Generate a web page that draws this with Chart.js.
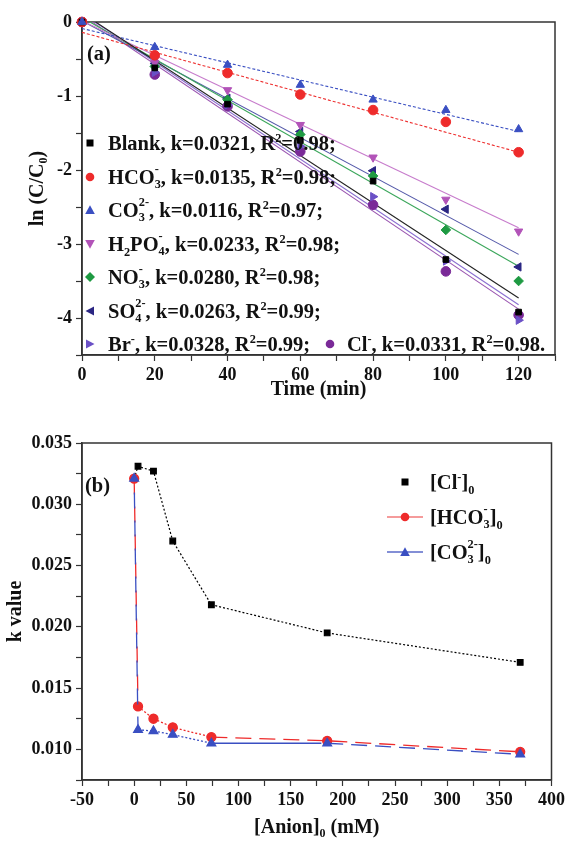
<!DOCTYPE html>
<html>
<head>
<meta charset="utf-8">
<script src="https://cdn.jsdelivr.net/npm/chart.js@4.4.1/dist/chart.umd.min.js"></script>
<style>
body{margin:0;background:#fff;}
#wrap{position:relative;width:569px;height:841px;font-family:"Liberation Serif","Times New Roman",serif;font-weight:bold;color:#111;}
canvas{position:absolute;left:0;}
.txt{position:absolute;white-space:nowrap;font-size:20.5px;line-height:24px;}
.row{position:absolute;height:34px;display:flex;align-items:center;white-space:nowrap;font-size:20.5px;}
.row svg{flex:none;}
.ss{display:inline-block;vertical-align:-0.32em;font-size:0.6em;line-height:1.2;}
.ss span{display:block;}
sup,sub{font-size:0.6em;line-height:0;}
</style>
</head>
<body>
<div id="wrap">
<canvas id="chartA" width="569" height="420" style="top:0"></canvas>
<canvas id="chartB" width="569" height="421" style="top:420px"></canvas>
<div class="txt" style="left:87px;top:41px">(a)</div>
<div class="txt" style="left:85px;top:473px">(b)</div>
<div id="legA"></div>
<div id="legB"></div>
</div>
<script>
// (a) ln(C/C0) vs time
var times = [0, 20, 40, 60, 80, 100, 120];
var lnBlank = [0, -0.62, -1.11, -1.60, -2.15, -3.21, -3.92];
var lnHCO3 = [0, -0.45, -0.69, -0.98, -1.19, -1.35, -1.76];
var lnCO3 = [0, -0.34, -0.58, -0.85, -1.05, -1.19, -1.45];
var lnH2PO4 = [0, -0.55, -0.92, -1.39, -1.83, -2.40, -2.83];
var lnNO3 = [0, -0.60, -1.05, -1.52, -2.08, -2.81, -3.50];
var lnSO4 = [0, -0.56, -1.03, -1.48, -2.01, -2.53, -3.31];
var lnBr = [0, -0.68, -1.12, -1.68, -2.36, -3.23, -4.03];
var lnCl = [0, -0.71, -1.14, -1.75, -2.47, -3.37, -3.96];

// fitted lines, value at t=0 and t=120
var fitTimes = [0, 120];
var fitBlank = [0.12, -3.73];
var fitHCO3 = [-0.14, -1.76];
var fitCO3 = [-0.088, -1.48];
var fitH2PO4 = [0.016, -2.78];
var fitNO3 = [0.06, -3.30];
var fitSO4 = [0.016, -3.14];
var fitBr = [0.116, -3.82];
var fitCl = [0.092, -3.88];

var kVals = ["0.0321", "0.0135", "0.0116", "0.0233", "0.0280", "0.0263", "0.0328", "0.0331"];
var r2Vals = ["0.98", "0.98", "0.97", "0.98", "0.98", "0.99", "0.99", "0.98"];

// (b) k value vs anion concentration
var anionConc = [0, 3.7, 18.5, 37, 74, 185, 370];
var kCl = [0.0321, 0.0331, 0.0327, 0.0270, 0.0218, 0.0195, 0.0171];
var kHCO3 = [0.0321, 0.0135, 0.0125, 0.0118, 0.0110, 0.0107, 0.0098];
var kCO3 = [0.0321, 0.0116, 0.0115, 0.0112, 0.0105, 0.0105, 0.0096];

var serif = '"Liberation Serif", "Times New Roman", serif';
var ink = "#111";
var axisCol = "#333";

function ss(top, bottom) {
	return '<span class="ss"><span>' + top + '</span><span>' + bottom + '</span></span>';
}
var ionHtml = ["Blank", "HCO" + ss("-", "3"), "CO" + ss("2-", "3"), "H<sub>2</sub>PO" + ss("-", "4"),
	"NO" + ss("-", "3"), "SO" + ss("2-", "4"), "Br<sup>-</sup>", "Cl<sup>-</sup>"];

var seriesA = [
	{pts: lnBlank, fit: fitBlank, color: "#000000", line: "#222222", shape: "rect", rot: 0, dash: []},
	{pts: lnHCO3, fit: fitHCO3, color: "#ee2b2b", line: "#ee3030", shape: "circle", rot: 0, dash: [3, 2]},
	{pts: lnCO3, fit: fitCO3, color: "#3a4fc2", line: "#3a4fc2", shape: "triangle", rot: 0, dash: [3, 2]},
	{pts: lnH2PO4, fit: fitH2PO4, color: "#b253b8", line: "#c77ccc", shape: "triangle", rot: 180, dash: []},
	{pts: lnNO3, fit: fitNO3, color: "#1e9a42", line: "#3aa65a", shape: "rectRot", rot: 0, dash: []},
	{pts: lnSO4, fit: fitSO4, color: "#2b2683", line: "#5257a8", shape: "triangle", rot: -90, dash: []},
	{pts: lnBr, fit: fitBr, color: "#6a50c6", line: "#8a6fd0", shape: "triangle", rot: 90, dash: []},
	{pts: lnCl, fit: fitCl, color: "#7a2a98", line: "#9a55b0", shape: "circle", rot: 0, dash: []}
];
var svgShape = ["square", "circle", "up", "down", "diamond", "left", "right", "circle"];

var boxPlugin = {
	id: "box",
	beforeDatasetsDraw: function(chart) {
		var a = chart.chartArea, ctx = chart.ctx;
		ctx.save();
		ctx.strokeStyle = axisCol;
		ctx.lineWidth = 1.5;
		ctx.strokeRect(a.left, a.top, a.right - a.left, a.bottom - a.top);
		ctx.restore();
	}
};

function axisBase(title, titlePad) {
	return {
		type: "linear",
		border: {color: axisCol, width: 1.5},
		grid: {drawOnChartArea: false, drawTicks: true, tickLength: 6, tickColor: axisCol, tickWidth: 1.2},
		ticks: {autoSkip: false, maxRotation: 0, padding: 4, color: ink, font: {family: serif, size: 18, weight: "bold"}},
		title: {display: true, text: title, color: ink, font: {family: serif, size: 20, weight: "bold"}, padding: titlePad}
	};
}

var dsA = [];
for (var i = 0; i < seriesA.length; ++i) {
	var s = seriesA[i];
	dsA.push({
		data: times.map(function(t, j) { return {x: t, y: s.pts[j]}; }),
		showLine: false,
		pointStyle: s.shape,
		pointRotation: s.rot,
		pointRadius: s.shape == "rect" ? 4 : 4.8,
		backgroundColor: s.color,
		borderColor: s.color,
		borderWidth: 1,
		order: s.pts === lnCO3 ? -1 : 0,
		clip: 10
	});
}
for (var i = 0; i < seriesA.length; ++i) {
	var s = seriesA[i];
	dsA.push({
		data: fitTimes.map(function(t, j) { return {x: t, y: s.fit[j]}; }),
		showLine: true,
		pointRadius: 0,
		borderColor: s.line,
		borderWidth: 1.1,
		borderDash: s.dash
	});
}

var xA = axisBase("Time (min)", {top: 0, bottom: 18});
xA.min = 0; xA.max = 130;
xA.ticks.stepSize = 10;
xA.ticks.callback = function(v) { return (v % 20 === 0 && v <= 120) ? String(v) : ""; };
xA.afterFit = function(sc) { sc.height = 65; };
var yA = axisBase("ln (C/C\u2080)", {top: 26, bottom: 0});
yA.min = -4.5; yA.max = 0;
yA.ticks.stepSize = 0.5;
yA.ticks.callback = function(v) { return Number.isInteger(v) ? String(v) : ""; };
yA.afterFit = function(sc) { sc.width = 82; };

new Chart(document.getElementById("chartA"), {
	type: "scatter",
	data: {datasets: dsA},
	options: {
		responsive: false,
		animation: false,
		layout: {padding: {top: 22, right: 14, left: 0, bottom: 0}},
		plugins: {legend: {display: false}, tooltip: {enabled: false}},
		scales: {x: xA, y: yA}
	},
	plugins: [boxPlugin]
});

// panel b
var co3Dash = [[16, 12], [2, 2], [2, 2], [2, 2], [110, 34], [16, 8]];
var hco3Dash = [[16, 12], [2, 2], [2, 2], [2, 2], [16, 8], [16, 8]];

function pairs(xs, ys) {
	return xs.map(function(x, j) { return {x: x, y: ys[j]}; });
}

var xB = axisBase("[Anion]\u2080 (mM)", {top: 0, bottom: 1});
xB.min = -50; xB.max = 400;
xB.ticks.stepSize = 25;
xB.ticks.callback = function(v) { return v % 50 === 0 ? String(v) : ""; };
xB.afterFit = function(sc) { sc.height = 61; };
var yB = axisBase("k value", {top: 4, bottom: 0});
yB.min = 0.0075; yB.max = 0.035;
yB.ticks.stepSize = 0.0025;
yB.ticks.callback = function(v) {
	var r = v * 200;
	return Math.abs(r - Math.round(r)) < 1e-6 ? v.toFixed(3) : "";
};
yB.afterFit = function(sc) { sc.width = 82; };

new Chart(document.getElementById("chartB"), {
	type: "scatter",
	data: {datasets: [
		{
			label: "CO3",
			data: pairs(anionConc, kCO3),
			showLine: true,
			pointStyle: "triangle",
			pointRadius: 5,
			backgroundColor: "#3a4fc2",
			borderColor: "#3a4fc2",
			borderWidth: 1.3,
			segment: {
				borderDash: function(c) { return co3Dash[c.p0DataIndex]; },
				borderDashOffset: function(c) { return c.p0DataIndex === 0 ? 14 : 0; }
			},
			clip: 10
		},
		{
			label: "HCO3",
			data: pairs(anionConc, kHCO3),
			showLine: true,
			pointStyle: "circle",
			pointRadius: 4.5,
			backgroundColor: "#ee2b2b",
			borderColor: "#ee2b2b",
			borderWidth: 1.3,
			segment: {borderDash: function(c) { return hco3Dash[c.p0DataIndex]; }},
			clip: 10
		},
		{
			label: "Cl",
			data: pairs(anionConc, kCl),
			showLine: true,
			pointStyle: "rect",
			pointRadius: function(c) { return c.dataIndex === 0 ? 0 : 4; },
			backgroundColor: "#000",
			borderColor: "#000",
			borderWidth: 1.2,
			borderDash: [2, 2],
			clip: 10
		}
	]},
	options: {
		responsive: false,
		animation: false,
		layout: {padding: {top: 23, right: 15, left: 0, bottom: 0}},
		plugins: {legend: {display: false}, tooltip: {enabled: false}},
		scales: {x: xB, y: yB}
	},
	plugins: [boxPlugin]
});

// legends
function marker(shape, color) {
	var body = "";
	if (shape == "square") body = '<rect x="3.5" y="3.5" width="7" height="7"/>';
	if (shape == "circle") body = '<circle cx="7" cy="7" r="4.3"/>';
	if (shape == "up") body = '<polygon points="7,2.2 11.8,11 2.2,11"/>';
	if (shape == "down") body = '<polygon points="2.2,3 11.8,3 7,11.8"/>';
	if (shape == "left") body = '<polygon points="2.5,7 11,2.5 11,11.5"/>';
	if (shape == "right") body = '<polygon points="3,2.5 11.5,7 3,11.5"/>';
	if (shape == "diamond") body = '<polygon points="7,2 12,7 7,12 2,7"/>';
	return '<g fill="' + color + '">' + body + '</g>';
}

var legA = "";
for (var i = 0; i < 7; ++i) {
	var rowTop = 143 + i * 33.5 - 17;
	legA += '<div class="row" style="left:83px;top:' + rowTop + 'px"><svg width="14" height="14">' + marker(svgShape[i], seriesA[i].color) +
		'</svg><span style="margin-left:11px">' + ionHtml[i] + ', k=' + kVals[i] + ', R<sup>2</sup>=' + r2Vals[i] + ';</span></div>';
}
legA += '<div class="row" style="left:323px;top:' + (143 + 6 * 33.5 - 17) + 'px"><svg width="14" height="14">' + marker(svgShape[7], seriesA[7].color) +
	'</svg><span style="margin-left:10px">' + ionHtml[7] + ', k=' + kVals[7] + ', R<sup>2</sup>=' + r2Vals[7] + '.</span></div>';
document.getElementById("legA").innerHTML = legA;

var legBNames = ["[Cl<sup>-</sup>]<sub>0</sub>", "[HCO" + ss("-", "3") + "]<sub>0</sub>", "[CO" + ss("2-", "3") + "]<sub>0</sub>"];
var legBShape = ["square", "circle", "up"];
var legBColor = ["#000000", "#ee2b2b", "#3a4fc2"];
var legBLine = ["", "#f27a7a", "#5a6ac8"];
var legB = "";
for (var i = 0; i < 3; ++i) {
	var rowTop = 482 + i * 35 - 17;
	var ln = legBLine[i] ? '<line x1="0" y1="7" x2="36" y2="7" stroke="' + legBLine[i] + '" stroke-width="1.3"/>' : "";
	legB += '<div class="row" style="left:387px;top:' + rowTop + 'px"><svg width="36" height="14">' + ln +
		'<g transform="translate(11,0)">' + marker(legBShape[i], legBColor[i]) + '</g></svg><span style="margin-left:7px">' + legBNames[i] + '</span></div>';
}
document.getElementById("legB").innerHTML = legB;
</script>
</body>
</html>
